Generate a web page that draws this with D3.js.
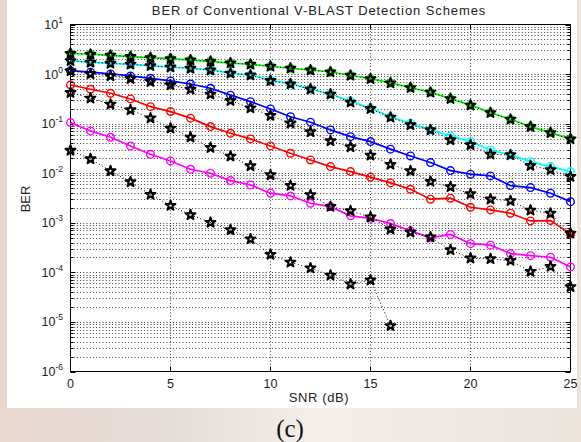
<!DOCTYPE html>
<html>
<head>
<meta charset="utf-8">
<script src="https://cdn.jsdelivr.net/npm/d3@7"></script>
<style>
  body { margin: 0; background: #efe6e1; }
  svg { display: block; }
</style>
</head>
<body>
<div id="chart"></div>
<script>
// SNR points (dB)
const snr = [0, 1, 2, 3, 4, 5, 6, 7, 8, 9, 10, 11, 12, 13, 14, 15, 16, 17, 18, 19, 20, 21, 22, 23, 24, 25];

// coloured curves (solid + circles)
const greenBer = [2.62, 2.51, 2.39, 2.24, 2.14, 2.04, 1.92, 1.81, 1.67, 1.58, 1.44, 1.31, 1.21, 1.10, 0.946, 0.807,
  0.662, 0.532, 0.430, 0.319, 0.236, 0.167, 0.123, 0.0871, 0.0659, 0.0492];
const cyanBer = [1.86, 1.73, 1.65, 1.58, 1.48, 1.39, 1.31, 1.21, 1.05, 0.959, 0.760, 0.634, 0.501, 0.397, 0.287, 0.204,
  0.137, 0.102, 0.0747, 0.0565, 0.0434, 0.0295, 0.0234, 0.0171, 0.0136, 0.0108];
const blueBer = [1.17, 1.09, 1.005, 0.916, 0.822, 0.726, 0.631, 0.518, 0.376, 0.278, 0.198, 0.138, 0.107, 0.0747, 0.0547, 0.0434,
  0.0306, 0.0223, 0.0164, 0.0113, 0.00955, 0.00883, 0.00562, 0.00513, 0.00395, 0.00267];
const redBer = [0.603, 0.494, 0.410, 0.315, 0.220, 0.175, 0.129, 0.0871, 0.0640, 0.0492, 0.0355, 0.0253, 0.0185, 0.0136, 0.0108, 0.00834,
  0.00637, 0.00475, 0.00299, 0.00313, 0.00206, 0.00182, 0.00156, 0.00109, 0.00111, 0.000597];
const magentaBer = [0.105, 0.0713, 0.0532, 0.0355, 0.0241, 0.0177, 0.0120, 0.0100, 0.00710, 0.00581, 0.00395, 0.00348, 0.00248, 0.00212, 0.00138, 0.00123,
  0.000968, 0.000687, 0.000497, 0.000583, 0.000379, 0.000354, 0.000239, 0.000217, 0.000202, 0.000129];

// black dotted curves (pentagrams)
const black1Ber = [2.60, 2.50, 2.38, 2.24, 2.13, 2.03, 1.92, 1.80, 1.67, 1.57, 1.43, 1.31, 1.20, 1.10, 0.940, 0.800,
  0.660, 0.530, 0.428, 0.318, 0.235, 0.166, 0.122, 0.0868, 0.0655, 0.0490];
const black2Ber = [1.85, 1.72, 1.64, 1.57, 1.47, 1.38, 1.30, 1.20, 1.04, 0.950, 0.735, 0.630, 0.495, 0.392, 0.270, 0.200,
  0.134, 0.0942, 0.0747, 0.0469, 0.0372, 0.0241, 0.0234, 0.0142, 0.0117, 0.00853];
const black3Ber = [1.155, 1.005, 0.916, 0.807, 0.703, 0.603, 0.494, 0.392, 0.290, 0.207, 0.145, 0.102, 0.0681, 0.0448, 0.0339, 0.0229,
  0.0150, 0.0111, 0.00678, 0.00530, 0.00383, 0.00299, 0.00277, 0.00179, 0.00155, 0.000611];
const black4Ber = [0.422, 0.325, 0.246, 0.189, 0.129, 0.0807, 0.0532, 0.0328, 0.0220, 0.0140, 0.00925, 0.00562, 0.00365, 0.00212, 0.00174, 0.00130,
  0.000743, 0.000646, 0.000513, 0.000284, 0.000193, 0.000187, 0.000173, 0.000104, 0.000131, 0.0000510];
const black5Ber = [0.0288, 0.0194, 0.0111, 0.00668, 0.00371, 0.00222, 0.00144, 0.00101, 0.000719, 0.000469, 0.000229, 0.000159, 0.000122, 0.0000871, 0.0000578, 0.0000697,
  0.00000834];

const xTicks = [0, 5, 10, 15, 20, 25];
const yExponents = [1, 0, -1, -2, -3, -4, -5, -6];

const width = 581, height = 442;
const plot = { left: 70.5, right: 570.5, top: 24.5, bottom: 371.5 };

const svg = d3.select("#chart").append("svg")
  .attr("width", width)
  .attr("height", height);

// page background (faded photo-ish)
const defs = svg.append("defs");
const bg = defs.append("linearGradient").attr("id", "bg").attr("x1", 0).attr("x2", 1);
bg.append("stop").attr("offset", "0%").attr("stop-color", "#e9d6cf");
bg.append("stop").attr("offset", "30%").attr("stop-color", "#e4dcd8");
bg.append("stop").attr("offset", "55%").attr("stop-color", "#f4eee8");
bg.append("stop").attr("offset", "100%").attr("stop-color", "#ece3dd");
svg.append("rect").attr("width", width).attr("height", height).attr("fill", "url(#bg)");

// white figure area
svg.append("rect")
  .attr("x", 7).attr("y", 0)
  .attr("width", 570).attr("height", 408)
  .attr("fill", "#fff");

const x = d3.scaleLinear().domain([0, 25]).range([plot.left, plot.right]);
const y = d3.scaleLog().domain([1e-6, 10]).range([plot.bottom, plot.top]);

// grid
const grid = svg.append("g").attr("stroke", "#000").attr("stroke-width", 0.75)
  .attr("stroke-dasharray", "1,2.2").attr("fill", "none");

const minorVals = [];
for (let e = -6; e < 1; e++) {
  for (let m = 1; m <= 9; m++) minorVals.push(m * Math.pow(10, e));
}
minorVals.push(10);

grid.selectAll(".hgrid")
  .data(minorVals.filter(v => v > 1e-6 && v < 10))
  .join("line")
  .attr("x1", plot.left).attr("x2", plot.right)
  .attr("y1", d => Math.round(y(d)) + 0.5)
  .attr("y2", d => Math.round(y(d)) + 0.5);

grid.selectAll(".vgrid")
  .data(xTicks.slice(1, -1))
  .join("line")
  .attr("x1", d => x(d)).attr("x2", d => x(d))
  .attr("y1", plot.top).attr("y2", plot.bottom);

// tick marks
const ticks = svg.append("g").attr("stroke", "#000").attr("stroke-width", 1);
ticks.selectAll(".ty")
  .data(minorVals.filter(v => v >= 1e-6 && v <= 10))
  .join("g")
  .each(function(d) {
    const major = Math.abs(Math.log10(d) - Math.round(Math.log10(d))) < 1e-9;
    const len = major ? 5 : 3;
    const yy = Math.round(y(d)) + 0.5;
    d3.select(this).append("line").attr("x1", plot.left).attr("x2", plot.left + len).attr("y1", yy).attr("y2", yy);
    d3.select(this).append("line").attr("x1", plot.right).attr("x2", plot.right - len).attr("y1", yy).attr("y2", yy);
  });
ticks.selectAll(".tx")
  .data(xTicks)
  .join("g")
  .each(function(d) {
    d3.select(this).append("line").attr("x1", x(d)).attr("x2", x(d)).attr("y1", plot.bottom).attr("y2", plot.bottom - 5);
    d3.select(this).append("line").attr("x1", x(d)).attr("x2", x(d)).attr("y1", plot.top).attr("y2", plot.top + 5);
  });

// axes box
svg.append("rect")
  .attr("x", plot.left).attr("y", plot.top)
  .attr("width", plot.right - plot.left).attr("height", plot.bottom - plot.top)
  .attr("fill", "none").attr("stroke", "#000").attr("stroke-width", 1);

// series
const line = d3.line().x(d => x(d[0])).y(d => y(d[1]));
const pts = arr => arr.map((v, i) => [snr[i], v]);

const colored = [
  { values: greenBer, color: "#00ff00" },
  { values: cyanBer, color: "#00ffff" },
  { values: blueBer, color: "#0000ff" },
  { values: redBer, color: "#ff0000" },
  { values: magentaBer, color: "#ff00ff" }
];
const blacks = [black1Ber, black2Ber, black3Ber, black4Ber, black5Ber];

const series = svg.append("g");
colored.forEach(s => {
  const g = series.append("g");
  g.append("path")
    .attr("d", line(pts(s.values)))
    .attr("fill", "none")
    .attr("stroke", s.color)
    .attr("stroke-width", 1.7);
  g.selectAll("circle")
    .data(pts(s.values))
    .join("circle")
    .attr("cx", d => x(d[0]))
    .attr("cy", d => y(d[1]))
    .attr("r", 3.8)
    .attr("fill", "none")
    .attr("stroke", s.color)
    .attr("stroke-width", 1.4);
});

const star = d3.symbol(d3.symbolStar, 30);
blacks.forEach(vals => {
  const g = series.append("g");
  g.append("path")
    .attr("d", line(pts(vals)))
    .attr("fill", "none")
    .attr("stroke", "#000")
    .attr("stroke-width", 1)
    .attr("stroke-dasharray", "1,2.5");
  g.selectAll(".star")
    .data(pts(vals))
    .join("path")
    .attr("transform", d => `translate(${x(d[0])},${y(d[1])})`)
    .attr("d", star)
    .attr("fill", "none")
    .attr("stroke", "#000")
    .attr("stroke-width", 2)
    .attr("stroke-linejoin", "round");
});

// tick labels
const font = "'Liberation Sans', Arial, sans-serif";
svg.append("g").selectAll("text")
  .data(xTicks)
  .join("text")
  .attr("x", d => x(d))
  .attr("y", 388)
  .attr("text-anchor", "middle")
  .style("font-family", font)
  .style("font-size", "12.5px")
  .attr("fill", "#222")
  .text(d => d);

const yl = svg.append("g").selectAll("text")
  .data(yExponents)
  .join("text")
  .attr("x", 63)
  .attr("y", d => y(Math.pow(10, d)) + 4.5)
  .attr("text-anchor", "end")
  .style("font-family", font)
  .style("font-size", "12.5px")
  .attr("fill", "#222");
yl.append("tspan").text("10");
yl.append("tspan")
  .attr("dy", -6)
  .style("font-size", "8.5px")
  .text(d => d);

// labels
svg.append("text")
  .attr("x", 319).attr("y", 15)
  .attr("text-anchor", "middle")
  .style("font-family", font).style("font-size", "13px")
  .style("letter-spacing", "0.9px")
  .attr("fill", "#222")
  .text("BER of Conventional V-BLAST Detection Schemes");

svg.append("text")
  .attr("x", 319).attr("y", 402)
  .attr("text-anchor", "middle")
  .style("font-family", font).style("font-size", "13px")
  .style("letter-spacing", "0.6px")
  .attr("fill", "#222")
  .text("SNR (dB)");

svg.append("text")
  .attr("transform", "translate(30,199) rotate(-90)")
  .attr("text-anchor", "middle")
  .style("font-family", font).style("font-size", "13px")
  .attr("fill", "#222")
  .text("BER");

svg.append("text")
  .attr("x", 290).attr("y", 437)
  .attr("text-anchor", "middle")
  .style("font-family", "'Liberation Serif', 'Times New Roman', serif")
  .style("font-size", "25px")
  .attr("fill", "#111")
  .text("(c)");
</script>
</body>
</html>
